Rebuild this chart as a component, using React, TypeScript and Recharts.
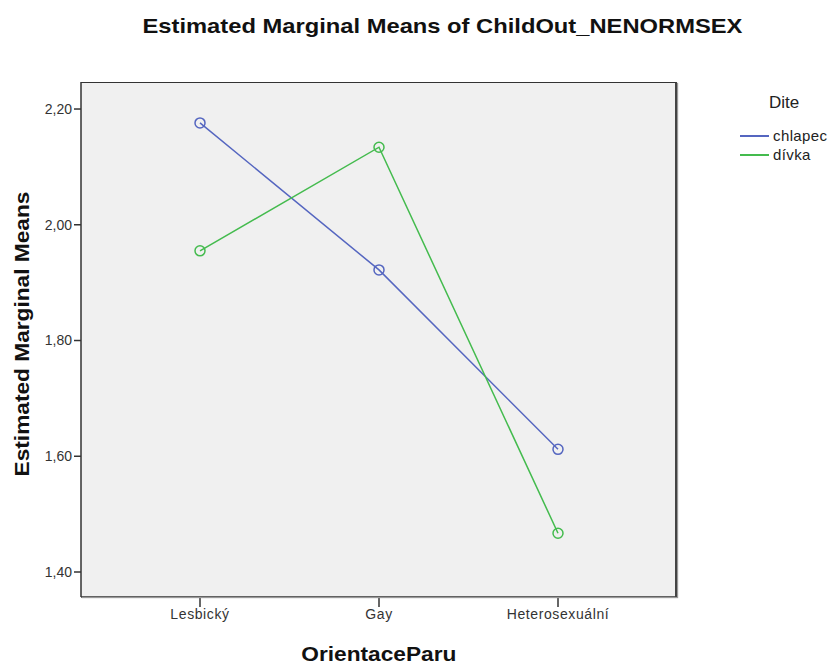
import React from 'react';
import { LineChart, Line, XAxis, YAxis, CartesianGrid } from 'recharts';

const categories = ['Lesbický', 'Gay', 'Heterosexuální'];
const chlapec = [2.176, 1.922, 1.612];
const divka = [1.955, 2.134, 1.467];
const yTicks = [1.4, 1.6, 1.8, 2.0, 2.2];
const seriesNames = ['chlapec', 'dívka'];
const legendTitle = 'Dite';
const title = 'Estimated Marginal Means of ChildOut_NENORMSEX';
const xLabel = 'OrientaceParu';
const yLabel = 'Estimated Marginal Means';

const colors = ['#5566C0', '#44BB4E'];
const data = categories.map((c, i) => ({ cat: c, chlapec: chlapec[i], divka: divka[i] }));
const font = '"Liberation Sans", Arial, sans-serif';

const fmt = (v: number) => v.toFixed(2).replace('.', ',');

const OpenDot = (color: string) => (props: any) => {
  const { cx, cy, index } = props;
  return <circle key={index} cx={cx} cy={cy} r={5} fill="none" stroke={color} strokeWidth={1.5} />;
};

export default function App() {
  return (
    <div style={{ position: 'absolute', left: 0, top: 0, width: 833, height: 667, background: '#fff', fontFamily: font }}>
      <LineChart width={833} height={667} data={data} margin={{ top: 82, right: 156, bottom: 40, left: 21 }}>
        <CartesianGrid fill="#F0F0F0" horizontal={false} vertical={false} />
        <XAxis
          dataKey="cat"
          padding={{ left: 119, right: 119 }}
          height={30}
          tickSize={10}
          tickLine={{ stroke: '#333', strokeWidth: 1.5 }}
          axisLine={{ stroke: '#333', strokeWidth: 1.5 }}
          tick={{ fill: '#333', fontSize: 14, fontFamily: font, letterSpacing: 0.6 }}
          interval={0}
        />
        <YAxis
          domain={[1.3568, 2.2467]}
          ticks={yTicks}
          width={60}
          tickSize={7}
          tickFormatter={fmt}
          tickLine={{ stroke: '#333', strokeWidth: 1.5 }}
          axisLine={{ stroke: '#333', strokeWidth: 1.5 }}
          tick={{ fill: '#333', fontSize: 14, fontFamily: font }}
          allowDataOverflow
        />
        <Line type="linear" dataKey="chlapec" stroke={colors[0]} strokeWidth={1.5} dot={OpenDot(colors[0])} isAnimationActive={false} />
        <Line type="linear" dataKey="divka" stroke={colors[1]} strokeWidth={1.5} dot={OpenDot(colors[1])} isAnimationActive={false} />
      </LineChart>
      <div style={{ position: 'absolute', left: 81, top: 82, width: 596, height: 515, boxSizing: 'border-box', borderTop: '1.5px solid #333', borderRight: '2px solid #444', boxShadow: '1px 1px 1px #999', pointerEvents: 'none' }} />
      <div style={{ position: 'absolute', left: 0, width: 884, top: 14, textAlign: 'center' }}>
        <span style={{ display: 'inline-block', fontSize: 21, fontWeight: 'bold', color: '#111', transform: 'scaleX(1.13)' }}>{title}</span>
      </div>
      <div style={{ position: 'absolute', left: 0, width: 758, top: 642, textAlign: 'center' }}>
        <span style={{ display: 'inline-block', fontSize: 21, fontWeight: 'bold', color: '#111', transform: 'scaleX(1.08)' }}>{xLabel}</span>
      </div>
      <div style={{ position: 'absolute', left: 22, top: 334, width: 0, height: 0 }}>
        <div style={{ position: 'absolute', left: -200, top: -13, width: 400, textAlign: 'center', fontSize: 21, fontWeight: 'bold', color: '#111', transform: 'rotate(-90deg) scaleX(1.08)', lineHeight: '26px' }}>{yLabel}</div>
      </div>
      <div style={{ position: 'absolute', left: 769, top: 93, fontSize: 17, color: '#222' }}>{legendTitle}</div>
      {seriesNames.map((n, i) => (
        <div key={n} style={{ position: 'absolute', left: 740, top: 126 + i * 19, height: 19, display: 'flex', alignItems: 'center' }}>
          <div style={{ width: 29, height: 2, background: colors[i], marginRight: 4 }} />
          <span style={{ fontSize: 15, color: '#222', letterSpacing: 0.4 }}>{n}</span>
        </div>
      ))}
    </div>
  );
}
